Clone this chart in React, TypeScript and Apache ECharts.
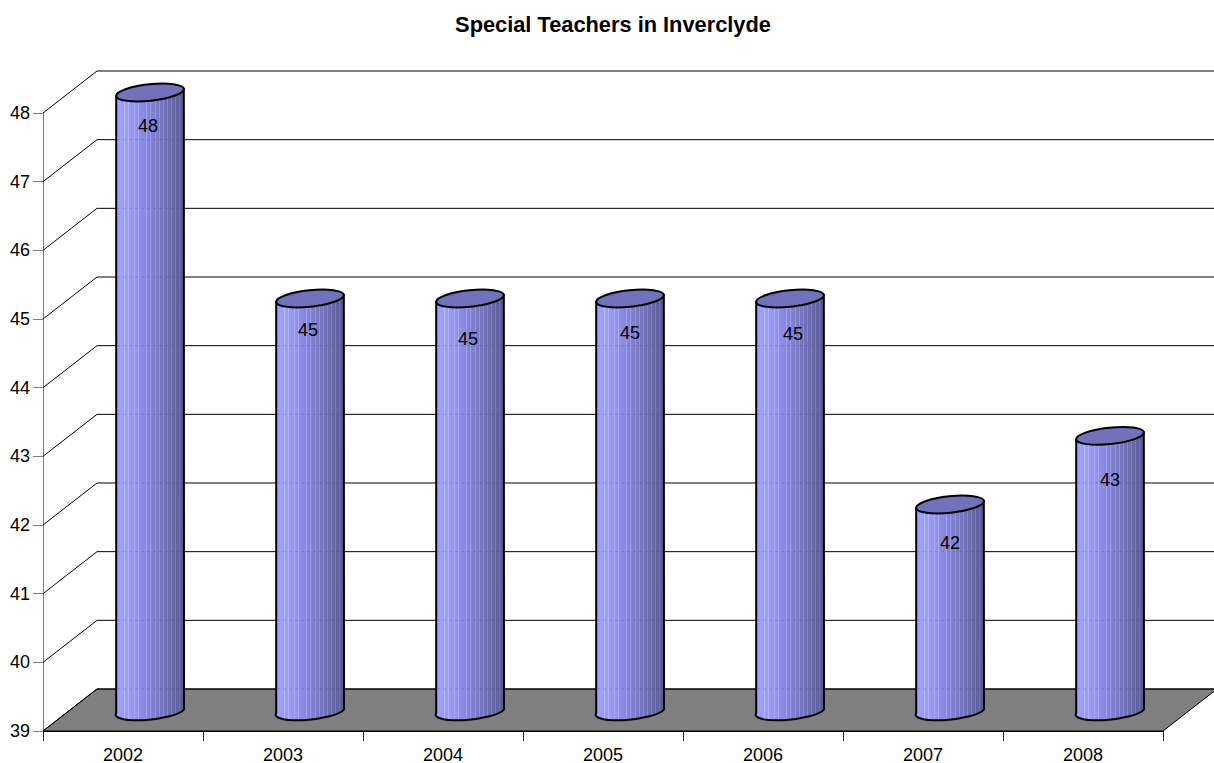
import React, { useEffect, useRef } from "react";
import * as echarts from "echarts";

const TITLE = "Special Teachers in Inverclyde";
const CATEGORIES = ["2002", "2003", "2004", "2005", "2006", "2007", "2008"];
const VALUES = [48, 45, 45, 45, 45, 42, 43];
const WALL_TICKS = [39, 40, 41, 42, 43, 44, 45, 46, 47, 48];

// Hand-read label nudges (px) of each data label relative to the cylinder's top centre.
const LABEL_DX = [-2, -2, -2, 0, 3, 0, 0];
const LABEL_DY = [33, 31, 40, 34, 35, 38, 44];

const DEPTH_X = 54;
const DEPTH_Y = -42;
const FONT = '"Liberation Sans", Arial, sans-serif';

function bodyGradient() {
  const left = [158, 158, 255];
  const right = [88, 88, 146];
  const stops: { offset: number; color: string }[] = [];
  const n = 68;
  const stripes = [8, 12, 18, 22, 30, 34, 39, 43, 47, 51, 55, 59, 63];
  for (let i = 0; i < n; i++) {
    const t = (i + 0.5) / n;
    const k = t < 0.12 ? 0 : (t - 0.12) / 0.88;
    const lift = stripes.indexOf(i) >= 0 ? 24 : 0;
    const c = left.map((v, j) => Math.round(v + (right[j] - v) * Math.pow(k, 1.15) + lift));
    const col = `rgb(${Math.min(255, c[0])},${Math.min(255, c[1])},${Math.min(255, c[2])})`;
    stops.push({ offset: i / n, color: col }, { offset: (i + 1) / n, color: col });
  }
  return new echarts.graphic.LinearGradient(0, 0, 1, 0, stops);
}

export default function App() {
  const ref = useRef<HTMLDivElement>(null);

  useEffect(() => {
    document.body.style.margin = "0";
    const chart = echarts.init(ref.current!, undefined, { renderer: "svg" });
    const fill = bodyGradient();

    chart.setOption({
      animation: false,
      backgroundColor: "#ffffff",
      title: {
        text: TITLE,
        left: 608,
        top: 8,
        textAlign: "center",
        textStyle: { fontFamily: FONT, fontSize: 21.8, fontWeight: "bold", color: "#000" },
      },
      grid: { left: 43, right: 51, top: 113, bottom: 32, outerBoundsMode: "none" },
      xAxis: {
        type: "category",
        data: CATEGORIES,
        boundaryGap: true,
        axisLine: { show: true, lineStyle: { color: "#000", width: 1 } },
        axisTick: { show: true, length: 10, alignWithLabel: false, lineStyle: { color: "#222" } },
        axisLabel: { fontFamily: FONT, fontSize: 18, lineHeight: 15, color: "#000", margin: 16 },
        splitLine: { show: false },
      },
      yAxis: {
        type: "value",
        min: 39,
        max: 48,
        interval: 1,
        axisLine: { show: true, onZero: false, lineStyle: { color: "#808080", width: 1 } },
        axisTick: { show: true, length: 10, lineStyle: { color: "#808080" } },
        axisLabel: { fontFamily: FONT, fontSize: 18, color: "#000", margin: 13 },
        splitLine: { show: false },
      },
      series: [
        {
          type: "custom",
          name: "floor",
          z: 1,
          silent: true,
          data: [[0, 39]],
          renderItem: (_p: any, api: any) => {
            const band = api.size([1, 0])[0];
            const l = api.coord([0, 39])[0] - band / 2;
            const r = api.coord([CATEGORIES.length - 1, 39])[0] + band / 2;
            const y = api.coord([0, 39])[1];
            return {
              type: "polygon",
              shape: {
                points: [
                  [l, y],
                  [r, y],
                  [r + DEPTH_X, y + DEPTH_Y],
                  [l + DEPTH_X, y + DEPTH_Y],
                ],
              },
              style: { fill: "#808080", stroke: "#000", lineWidth: 1 },
            };
          },
        },
        {
          type: "custom",
          name: "wall",
          z: 2,
          silent: true,
          data: WALL_TICKS.map((v) => [0, v]),
          renderItem: (_p: any, api: any) => {
            const band = api.size([1, 0])[0];
            const p = api.coord([0, api.value(1)]);
            const l = p[0] - band / 2;
            const r = api.coord([CATEGORIES.length - 1, api.value(1)])[0] + band / 2;
            const y = p[1];
            return {
              type: "group",
              children: [
                {
                  type: "line",
                  shape: { x1: l, y1: y, x2: l + DEPTH_X, y2: y + DEPTH_Y },
                  style: { stroke: "#000", lineWidth: 1 },
                },
                {
                  type: "line",
                  shape: { x1: l + DEPTH_X, y1: y + DEPTH_Y, x2: r + DEPTH_X, y2: y + DEPTH_Y },
                  style: { stroke: "#000", lineWidth: 1 },
                },
              ],
            };
          },
        },
        {
          type: "custom",
          name: "Teachers",
          z: 3,
          data: CATEGORIES.map((_, i) => [i, VALUES[i]]),
          renderItem: (_p: any, api: any) => {
            const i = api.value(0);
            const top = api.coord([i, api.value(1)]);
            const base = api.coord([i, 39]);
            const cx = top[0] + DEPTH_X / 2;
            const topY = top[1] + DEPTH_Y / 2 + 0.5;
            const baseY = base[1] + DEPTH_Y / 2 - 0.5;
            const rx = 34;
            const ry = 8.2;
            const rot = (6 * Math.PI) / 180;
            const dx = rx * Math.cos(rot);
            const dy = rx * Math.sin(rot);
            const d =
              `M${cx - dx} ${topY + dy}L${cx - dx} ${baseY + dy}` +
              `A${rx} ${ry} -6 0 0 ${cx + dx} ${baseY - dy}` +
              `L${cx + dx} ${topY - dy}Z`;
            const ghosts = WALL_TICKS.filter((t) => t < api.value(1)).map((t) => {
              const y = api.coord([i, t])[1] + DEPTH_Y;
              return {
                type: "line",
                shape: { x1: cx - dx + 1, y1: y, x2: cx + dx - 1, y2: y },
                style: { stroke: "#000", opacity: 0.14, lineWidth: 1, lineDash: [3, 3] },
              };
            });
            return {
              type: "group",
              children: [
                {
                  type: "path",
                  shape: { pathData: d },
                  style: { fill, stroke: "#000", lineWidth: 2 },
                },
                ...ghosts,
                {
                  type: "ellipse",
                  x: cx,
                  y: topY,
                  rotation: rot,
                  shape: { cx: 0, cy: 0, rx, ry },
                  style: { fill: "#7272BC", stroke: "#000", lineWidth: 2 },
                },
                {
                  type: "text",
                  x: cx + LABEL_DX[i],
                  y: topY + LABEL_DY[i],
                  style: {
                    text: String(api.value(1)),
                    fontFamily: FONT,
                    fontSize: 18,
                    fill: "#000",
                    align: "center",
                    verticalAlign: "middle",
                  },
                },
              ],
            };
          },
        },
      ],
    });

    return () => chart.dispose();
  }, []);

  return <div ref={ref} style={{ position: "fixed", left: 0, top: 0, width: 1214, height: 763 }} />;
}
